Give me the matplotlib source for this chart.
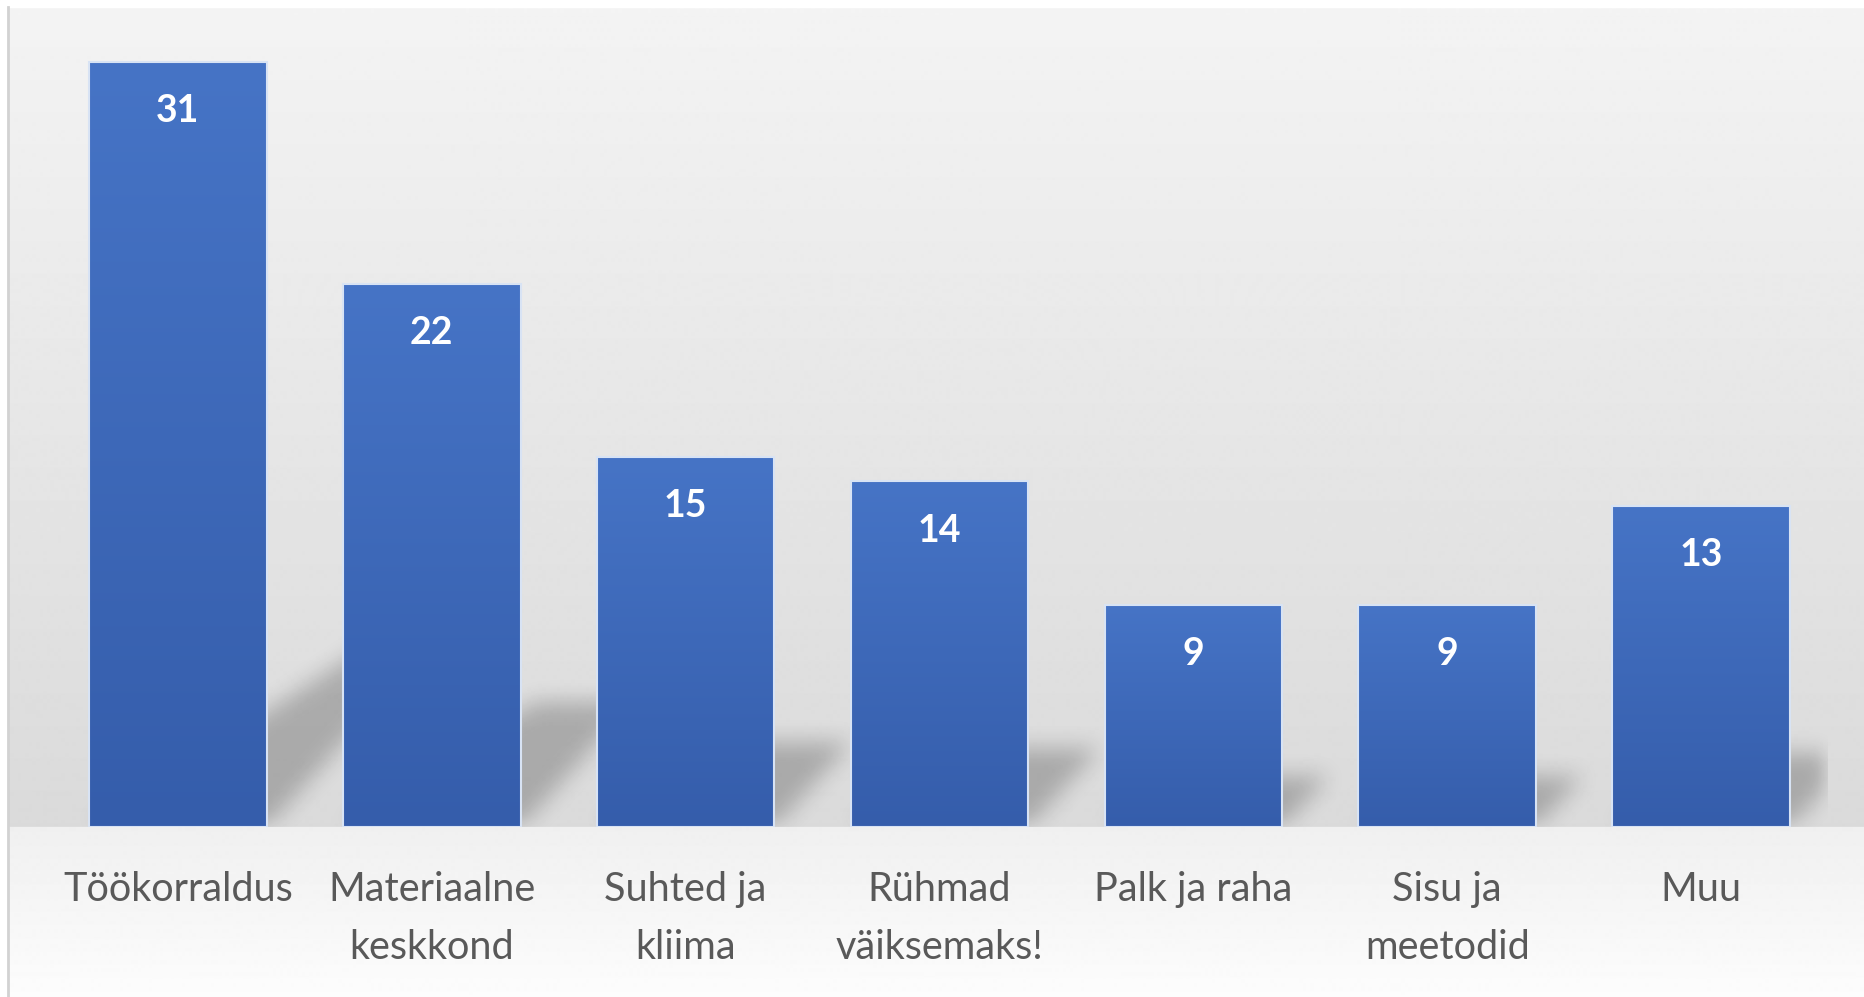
import numpy as np
import matplotlib.pyplot as plt
from matplotlib.colors import LinearSegmentedColormap
from matplotlib.patches import Rectangle
from matplotlib.lines import Line2D

# data
categories = ['Töökorraldus', 'Materiaalne\nkeskkond', 'Suhted ja\nkliima',
              'Rühmad\nväiksemaks!', 'Palk ja raha', 'Sisu ja\nmeetodid', 'Muu']
values = [31, 22, 15, 14, 9, 9, 13]

W, H = 1864, 997
floor_px = 827          # pixel row of the bar bottoms
bar_w = 0.7
ymax = 33.5

fig = plt.figure(figsize=(W / 100, H / 100), dpi=100)

# background: grey "wall" getting darker to the floor, light floor below
bg = fig.add_axes([0, 0, 1, 1], zorder=-10)
rows = np.arange(H)
shade = np.where(rows < floor_px,
                 0.955 - (0.955 - 0.855) * rows / floor_px,
                 0.94 + (0.99 - 0.94) * (rows - floor_px) / (H - floor_px))
bg.imshow(np.repeat(shade[:, None], 2, axis=1), cmap='gray', vmin=0, vmax=1,
          aspect='auto', extent=(0, 1, 0, 1), origin='upper', interpolation='bilinear')
bg.set_xlim(0, 1)
bg.set_ylim(0, 1)
bg.axis('off')
fig.patches.append(Rectangle((0, 1 - 7 / H), 1, 7 / H, transform=fig.transFigure,
                             color='white', zorder=-5))
fig.patches.append(Rectangle((0, 0), 7 / W, 1, transform=fig.transFigure,
                             color='white', zorder=-5))
fig.lines.append(Line2D([8 / W, 8 / W], [0, 1 - 7 / H], transform=fig.transFigure,
                        color='#d2d2d2', lw=2))

ax = fig.add_axes([51 / W, (H - floor_px) / H, 1777 / W, floor_px / H])
ax.patch.set_alpha(0)
x = np.arange(len(values))

# perspective shadow: bar squashed to 23% height, leaning back to the right
nx, ny = 1777, floor_px
px_x = nx / len(values)
px_y = ny / ymax
gx = -0.5 + (np.arange(nx) + 0.5) / px_x
gy = (np.arange(ny) + 0.5) / px_y
XX, YY = np.meshgrid(gx, gy)
mask = np.zeros_like(XX)
for i, h in enumerate(values):
    s = 0.23 * h
    left = i - bar_w / 2 + (YY * px_y / 0.65) / px_x
    right = i + bar_w / 2 + (YY * px_y / 1.1) / px_x
    m = (YY <= s) & (XX >= left) & (XX <= right)
    mask = np.maximum(mask, m.astype(float))

def blur(a, r, axis):
    k = np.ones(2 * r + 1) / (2 * r + 1)
    return np.apply_along_axis(lambda v: np.convolve(v, k, mode='same'), axis, a)

for _ in range(3):
    mask = blur(mask, 10, 0)
    mask = blur(mask, 10, 1)
rgba = np.zeros((ny, nx, 4))
rgba[..., 3] = mask * 0.23
ax.imshow(rgba, extent=(-0.5, len(values) - 0.5, 0, ymax), origin='lower',
          aspect='auto', zorder=1)

# bars with a vertical blue gradient
bars = ax.bar(x, values, width=bar_w, color='none', edgecolor='#d8e3f4',
              linewidth=1.5, zorder=3)
cmap = LinearSegmentedColormap.from_list('bar', ['#355dab', '#4674c6'])
grad = np.linspace(0, 1, 256)[:, None]
for b, h in zip(bars, values):
    im = ax.imshow(grad, cmap=cmap, aspect='auto', origin='lower', zorder=2.5,
                   extent=(b.get_x(), b.get_x() + b.get_width(), 0, h))
    im.set_clip_path(b)

for i, v in enumerate(values):
    ax.text(i, v - 2.0, str(v), ha='center', va='center', color='white',
            fontsize=27, fontweight='bold', family='Lato', zorder=5)

ax.set_xlim(-0.5, len(values) - 0.5)
ax.set_ylim(0, ymax)
ax.set_xticks(x)
ax.set_xticklabels(categories, fontsize=28.5, color='#595959', family='Lato',
                   linespacing=1.7)
ax.tick_params(axis='x', length=0, pad=32)
ax.set_yticks([])
for sp in ax.spines.values():
    sp.set_visible(False)

fig.savefig('out.png', dpi=100)
